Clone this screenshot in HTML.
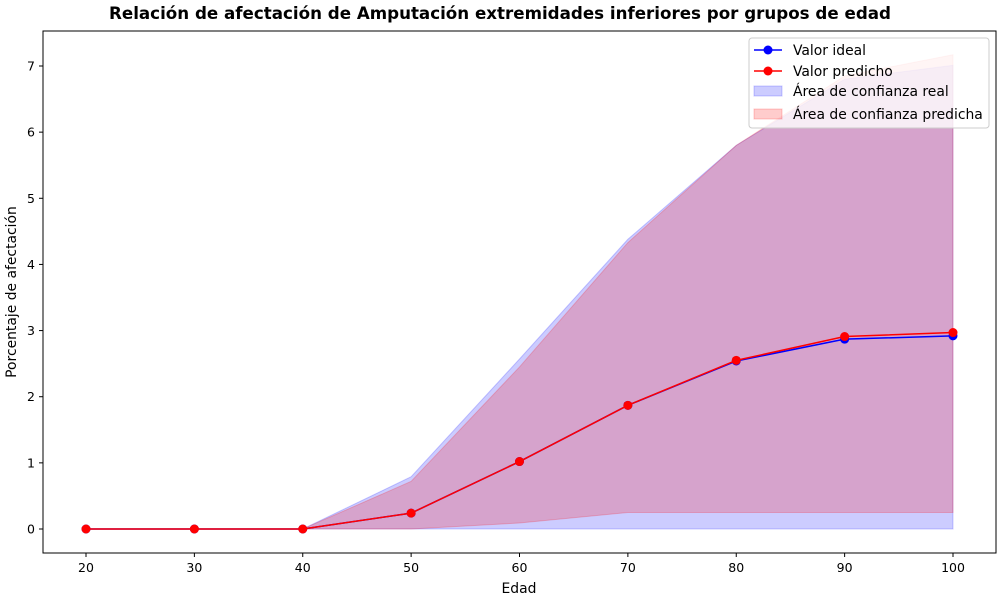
<!DOCTYPE html>
<html><head><meta charset="utf-8"><style>
body{margin:0;background:#fff;}
svg{font-family:"DejaVu Sans","Liberation Sans",sans-serif;}
</style></head><body>
<svg id="c" width="1000" height="600" viewBox="0 0 1000 600" xmlns="http://www.w3.org/2000/svg">
<rect width="1000" height="600" fill="#fff"/>
<text x="500" y="19" text-anchor="middle" font-size="16.7" font-weight="bold">Relación de afectación de Amputación extremidades inferiores por grupos de edad</text>
<g id="bands"></g><g id="lines"></g><g id="axes"></g>
<rect x="43" y="31" width="953" height="522" fill="none" stroke="#000" stroke-width="1"/>
<text x="519" y="593" text-anchor="middle" font-size="13.9">Edad</text>
<text transform="translate(16,292) rotate(-90)" text-anchor="middle" font-size="13.9">Porcentaje de afectación</text>
<g>
<rect x="749" y="38" width="240" height="90" rx="3" fill="#fff" fill-opacity="0.8" stroke="#ccc"/>
<line x1="754" y1="50" x2="782" y2="50" stroke="blue" stroke-width="1.5"/><circle cx="768" cy="50" r="4.5" fill="blue"/>
<text x="793" y="55" font-size="13.9">Valor ideal</text>
<line x1="754" y1="71" x2="782" y2="71" stroke="red" stroke-width="1.5"/><circle cx="768" cy="71" r="4.5" fill="red"/>
<text x="793" y="76" font-size="13.9">Valor predicho</text>
<rect x="754" y="86" width="28" height="10" fill="blue" fill-opacity="0.2" stroke="blue" stroke-opacity="0.2"/>
<text x="793" y="96" font-size="13.9">Área de confianza real</text>
<rect x="754" y="109" width="28" height="10" fill="red" fill-opacity="0.2" stroke="red" stroke-opacity="0.2"/>
<text x="793" y="119" font-size="13.9">Área de confianza predicha</text>
</g>
</svg>
<script>
const ages=[20,30,40,50,60,70,80,90,100];
const ideal=[0,0,0,0.24,1.02,1.87,2.54,2.87,2.92];
const predicho=[0,0,0,0.24,1.02,1.87,2.55,2.91,2.97];
const realUpper=[0,0,0,0.79,2.57,4.38,5.80,6.80,7.01];
const realLower=[0,0,0,0,0,0,0,0,0];
const predUpper=[0,0,0,0.72,2.45,4.33,5.80,6.85,7.17];
const predLower=[0,0,0,0,0.09,0.25,0.25,0.25,0.25];
const xTicks=[20,30,40,50,60,70,80,90,100];
const yTicks=[0,1,2,3,4,5,6,7];
const NS="http://www.w3.org/2000/svg";
const X=v=>86+(v-20)*(953-86)/80;
const Y=v=>529-v*(529-66)/7;
function mk(tag,attrs,parent){const e=document.createElementNS(NS,tag);for(const k in attrs)e.setAttribute(k,attrs[k]);parent.appendChild(e);return e;}
const bands=document.getElementById('bands'),lines=document.getElementById('lines'),axes=document.getElementById('axes');
function band(up,lo,col,name){
  let pts=ages.map((a,i)=>X(a)+','+Y(up[i]));
  for(let i=ages.length-1;i>=0;i--)pts.push(X(ages[i])+','+Y(lo[i]));
  const p=mk('polygon',{points:pts.join(' '),fill:col,'fill-opacity':0.2,stroke:col,'stroke-opacity':0.2},bands);
  
  
}
band(realUpper,realLower,'blue','confidence-band-real');
band(predUpper,predLower,'red','confidence-band-predicted');
function series(vals,col,name){
  const pl=mk('polyline',{points:ages.map((a,i)=>X(a)+','+Y(vals[i])).join(' '),fill:'none',stroke:col,'stroke-width':1.5},lines);
  
  
  ages.forEach((a,i)=>{
    const c=mk('circle',{cx:X(a),cy:Y(vals[i]),r:4.5,fill:col},lines);
    
    
  });
}
series(ideal,'blue','ideal');
series(predicho,'red','predicho');
xTicks.forEach(t=>{
  mk('line',{x1:X(t),x2:X(t),y1:553,y2:557,stroke:'#000'},axes);
  const tx=mk('text',{x:X(t),y:572,'text-anchor':'middle','font-size':12.5},axes);
  tx.textContent=t;
  
  
});
yTicks.forEach(t=>{
  mk('line',{x1:39,x2:43,y1:Y(t),y2:Y(t),stroke:'#000'},axes);
  const tx=mk('text',{x:35,y:Y(t)+4.5,'text-anchor':'end','font-size':12.5},axes);
  tx.textContent=t;
  
  
});
</script>
</body></html>
